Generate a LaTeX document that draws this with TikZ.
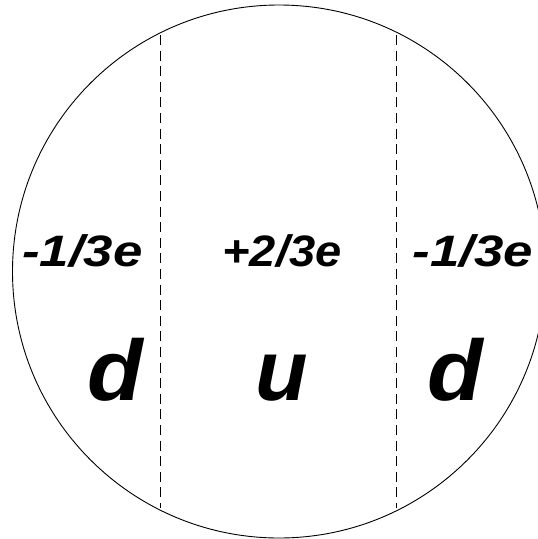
\documentclass[tikz,border=0pt]{standalone}
\usepackage{fontspec}
\setmainfont{Liberation Sans}
\begin{document}
\begin{tikzpicture}[x=1pt,y=-1pt,
  charge/.style={font=\fontsize{44}{44}\selectfont\bfseries\itshape, anchor=base, inner sep=0pt},
  quark/.style={font=\fontsize{86}{86}\selectfont\bfseries\itshape, anchor=base, inner sep=0pt},
  divider/.style={line width=0.8pt, dash pattern=on 10pt off 5.6pt}]
\useasboundingbox (0,0) rectangle (538,539);
\draw[line width=0.9pt] (279,271.5) circle (266.5);
\coordinate (l1) at (160,35);
\coordinate (l2) at (160,508);
\coordinate (r1) at (396,35);
\coordinate (r2) at (396,508);
\draw[divider] (l1) -- (l2);
\draw[divider] (r1) -- (r2);
\node[charge] (c1) at (82.5,266.5) {\scalebox{1.2}[1]{-1/3e}};
\node[charge] (c2) at (282,266.5) {\scalebox{1.07}[1]{+2/3e}};
\node[charge] (c3) at (473,266.5) {\scalebox{1.2}[1]{-1/3e}};
\node[quark] (q1) at (115,400) {\scalebox{1.06}[1]{d}};
\node[quark] (q2) at (282,400) {u};
\node[quark] (q3) at (455.5,400) {\scalebox{1.06}[1]{d}};
\end{tikzpicture}
\end{document}
